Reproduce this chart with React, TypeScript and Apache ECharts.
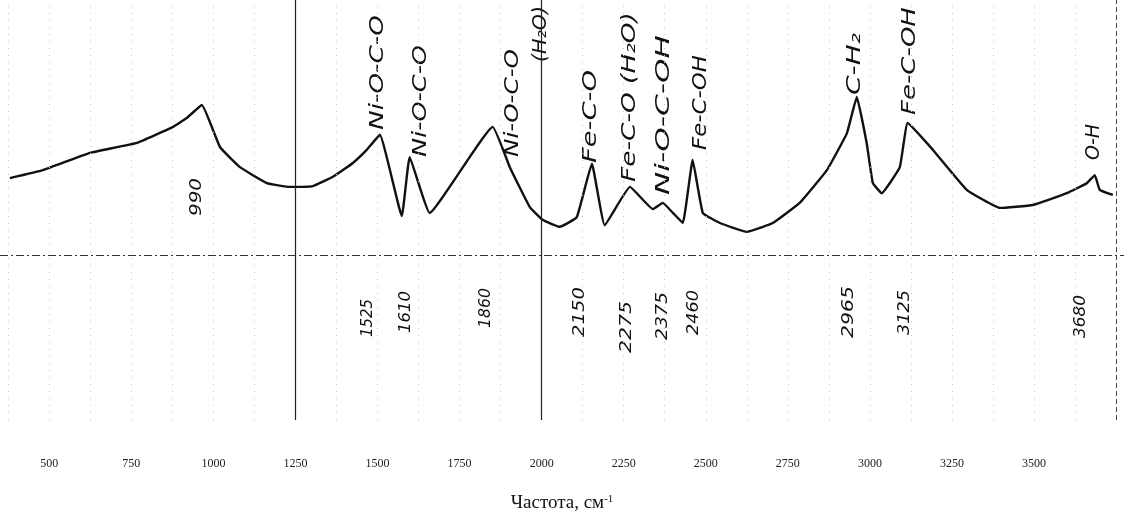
import { useEffect, useRef } from "react";
import * as echarts from "echarts";

// ---- data ----
const wavenumbers = [380, 481, 624, 767, 877, 919, 965, 1020, 1081, 1163, 1233, 1303, 1364, 1425, 1467, 1507, 1574, 1598, 1659, 1851, 1903, 1964, 2004, 2055, 2107, 2153, 2192, 2269, 2339, 2369, 2400, 2430, 2460, 2491, 2543, 2625, 2704, 2786, 2869, 2930, 2960, 2990, 3009, 3036, 3091, 3115, 3192, 3295, 3396, 3496, 3600, 3661, 3685, 3700, 3740];
const intensity = [57.6, 59.5, 63.6, 66.0, 69.8, 71.9, 75.0, 65.0, 60.2, 56.4, 55.5, 55.7, 57.9, 61.2, 64.3, 67.9, 48.6, 62.6, 49.3, 69.8, 60.2, 50.7, 47.6, 46.0, 48.3, 61.0, 46.4, 55.5, 50.2, 51.7, 49.3, 46.9, 61.9, 49.3, 46.9, 44.8, 46.9, 51.7, 59.5, 68.3, 76.9, 66.0, 56.4, 54.0, 60.2, 70.7, 64.3, 54.8, 50.5, 51.2, 54.0, 56.4, 58.3, 54.8, 53.6];
const axisTicks = [500, 750, 1000, 1250, 1500, 1750, 2000, 2250, 2500, 2750, 3000, 3250, 3500];
const gridLineValues = [375, 500, 625, 750, 875, 1000, 1125, 1375, 1500, 1625, 1750, 1875, 2125, 2250, 2375, 2500, 2625, 2750, 2875, 3000, 3125, 3250, 3375, 3500, 3625];
const solidGridValues = [1250, 2000];
const frameValues = [3750];
const baselineLevel = 39.3;
const peakValues = [990, 1525, 1610, 1860, 2150, 2275, 2375, 2460, 2965, 3125, 3680];
const nameAt = [1525, 1610, 1860, 1860, 2150, 2275, 2375, 2460, 2965, 3125, 3680];
const nameTexts = ["Ni-O-C-O", "Ni-O-C-O", "Ni-O-C-O", "(H₂O)", "Fe-C-O", "Fe-C-O (H₂O)", "Ni-O-C-OH", "Fe-C-OH", "C-H₂", "Fe-C-OH", "O-H"];
const axisTitle = "Частота, см";

// ---- layout (pixel offsets: dx from value, bottom y, text length) ----
const numberLayout = [
  [-15, 216, 38], [-19, 337, 38], [-9, 333, 42], [-11, 328, 40], [-13, 337, 50],
  [-7, 353, 52], [-3, 340, 48], [0, 335, 45], [-11, 338, 52], [-8, 335, 45], [-13, 338, 43],
];
const nameLayout = [
  [-9, 130, 115], [6, 157, 112], [16, 157, 108], [44, 62, 56], [-1, 163, 93],
  [-4, 182, 170], [-2, 195, 160], [7, 150, 95], [-5, 95, 62], [-3, 115, 108], [-1, 160, 36],
];

export default function App() {
  const ref = useRef<HTMLDivElement>(null);
  useEffect(() => {
    document.body.style.margin = "0";
    const chart = echarts.init(ref.current!, null, { renderer: "svg" });
    const markLineData: any[] = [
      ...gridLineValues.map((v) => ({ xAxis: v, lineStyle: { color: "#c4c4c4", type: [1, 6], width: 1 } })),
      ...solidGridValues.map((v) => ({ xAxis: v, lineStyle: { color: "#222", type: "solid", width: 1.2 } })),
      ...frameValues.map((v) => ({ xAxis: v, lineStyle: { color: "#444", type: [5, 3], width: 1 } })),
      { yAxis: baselineLevel, lineStyle: { color: "#333", type: [8, 3, 2, 3], width: 1 } },
    ];
    chart.setOption({
      animation: false,
      grid: { left: 0, right: 0, top: 0, bottom: 106 },
      xAxis: {
        type: "value",
        min: 350,
        max: 3774,
        axisLine: { show: false },
        axisTick: { show: false },
        splitLine: { show: false },
        axisLabel: {
          customValues: axisTicks,
          formatter: (v: number) => String(v),
          margin: 37,
          fontFamily: "Liberation Serif",
          fontSize: 12,
          color: "#222",
        },
        name: axisTitle + "{sup|-1}",
        nameLocation: "middle",
        nameGap: 72,
        nameTextStyle: {
          fontFamily: "Liberation Serif",
          fontSize: 19,
          color: "#111",
          rich: { sup: { fontFamily: "Liberation Serif", fontSize: 11, color: "#111", verticalAlign: "top" } },
        },
      },
      yAxis: { type: "value", min: 0, max: 100, show: false },
      series: [
        {
          type: "line",
          data: [],
          silent: true,
          markLine: { silent: true, symbol: "none", label: { show: false }, data: markLineData },
        },
        {
          type: "line",
          data: wavenumbers.map((w, i) => [w, intensity[i]]),
          symbol: "none",
          showSymbol: false,
          smooth: 0.1,
          lineStyle: { color: "#111", width: 2.4, join: "round" },
        },
      ],
    });

    const ctx = document.createElement("canvas").getContext("2d")!;
    const family = "DejaVu Sans";
    const mk = (text: string, value: number, lay: number[], size: number) => {
      ctx.font = `italic ${size}px "${family}"`;
      const w = ctx.measureText(text).width || 1;
      const px = chart.convertToPixel({ gridIndex: 0 }, [value, 0]) as number[];
      return {
        type: "text",
        x: px[0] + lay[0],
        y: lay[1],
        rotation: Math.PI / 2,
        scaleX: lay[2] / w,
        style: {
          text,
          fontFamily: family,
          fontStyle: "italic",
          fontSize: size,
          fill: "#111",
          align: "left",
          verticalAlign: "middle",
        },
      };
    };
    const elements: any[] = [];
    peakValues.forEach((v, i) => elements.push(mk(String(v), v, numberLayout[i], 16)));
    nameTexts.forEach((t, i) => elements.push(mk(t, nameAt[i], nameLayout[i], 19)));
    chart.setOption({ graphic: elements });

    return () => chart.dispose();
  }, []);
  return <div ref={ref} style={{ position: "fixed", left: 0, top: 0, width: 1124, height: 526 }} />;
}
